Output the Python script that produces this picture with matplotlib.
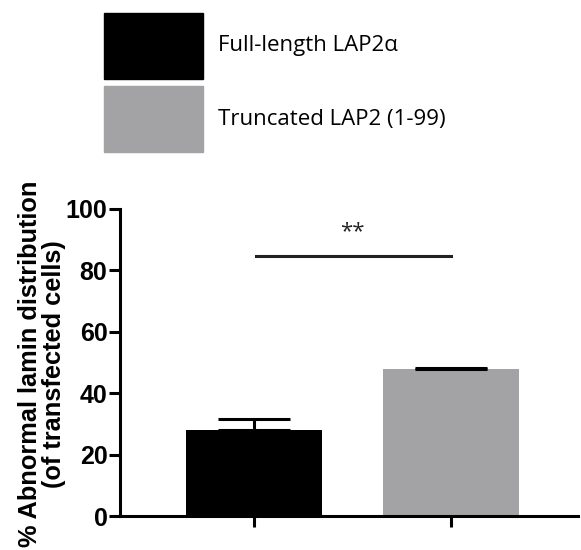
import matplotlib
matplotlib.use("Agg")
import matplotlib.pyplot as plt
from matplotlib.patches import Rectangle

categories = ["Full-length LAP2\u03b1", "Truncated LAP2 (1-99)"]
means = [28.0, 47.9]
errors = [3.6, 0.4]
colors = ["#000000", "#a3a3a6"]
yticks = [0, 20, 40, 60, 80, 100]
sig_y = 84.7
sig_text = "**"

W, H = 581, 550
fig = plt.figure(figsize=(W / 100, H / 100), dpi=100)
ax = fig.add_axes([120 / W, (H - 516) / H, (578 - 120) / W, (516 - 209) / H])

x = [0, 1]
ax.bar(x, means, width=0.69, color=colors, zorder=2)
ax.errorbar(x, means, yerr=[[0, 0], errors], fmt="none", ecolor="black",
            elinewidth=2.2, capsize=26, capthick=2.2, zorder=3)

ax.plot([0.01, 1.0], [sig_y, sig_y], color="#222222", lw=2.2, clip_on=False)
ax.text(0.5, sig_y + 8, sig_text, ha="center", va="center", fontsize=16,
        color="#222222", family="Open Sans")

ax.set_xlim(-0.68, 1.645)
ax.set_ylim(0, 100)
ax.set_yticks(yticks)
ax.set_xticks(x)
ax.set_xticklabels([])
for s in ["top", "right"]:
    ax.spines[s].set_visible(False)
for s in ["left", "bottom"]:
    ax.spines[s].set_linewidth(2.2)
ax.tick_params(axis="both", width=2.2, length=8, direction="out")
ax.tick_params(axis="y", labelsize=18, pad=1)
for lab in ax.get_yticklabels():
    lab.set_fontweight("bold")
    lab.set_family("Liberation Sans")
ax.set_ylabel("% Abnormal lamin distribution\n(of transfected cells)",
              fontsize=18.3, fontweight="bold", family="Liberation Sans",
              linespacing=1.0)
ax.yaxis.set_label_coords(-0.118, 0.495)

# legend
boxes = [(13, 79), (86, 152)]
for (top, bot), c, lab in zip(boxes, colors, categories):
    fig.patches.append(Rectangle((104 / W, (H - bot) / H), 99 / W, (bot - top) / H,
                                 transform=fig.transFigure, color=c))
    fig.text(218 / W, (H - (top + bot) / 2) / H, lab, fontsize=16,
             family="Open Sans", va="center", ha="left")

fig.savefig("out.png", dpi=100)
